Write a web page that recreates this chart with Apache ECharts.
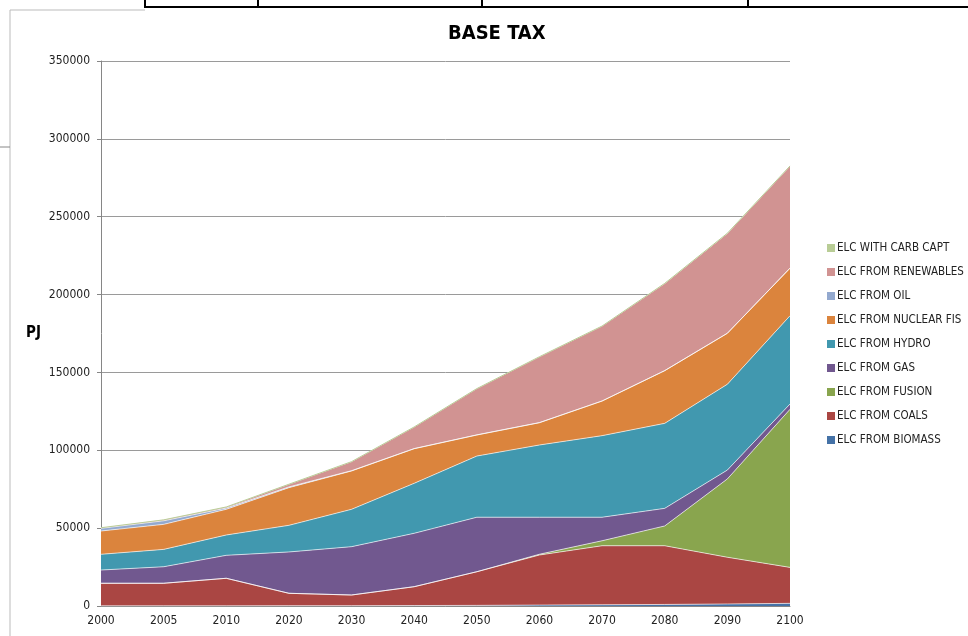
<!DOCTYPE html>
<html>
<head>
<meta charset="utf-8">
<script src="https://cdn.jsdelivr.net/npm/echarts@6/dist/echarts.min.js"></script>
<style>html,body{margin:0;padding:0;background:#fff}#c{width:968px;height:636px}</style>
</head>
<body>
<div id="c"></div>
<script>
const years = ['2000','2005','2010','2020','2030','2040','2050','2060','2070','2080','2090','2100'];
const elcBiomass     = [100, 100, 100, 200, 200, 300, 400, 600, 800, 1000, 1300, 1700];
const elcCoals       = [14500, 14500, 17700, 7950, 6860, 12100, 21600, 32150, 37900, 37700, 30000, 23100];
const elcFusion      = [0, 0, 0, 0, 0, 0, 0, 500, 3200, 12700, 50300, 101500];
const elcGas         = [8500, 10600, 14750, 26550, 31040, 34300, 35000, 23750, 15100, 11300, 5700, 3400];
const elcHydro       = [10100, 11160, 13050, 17100, 24000, 32100, 39300, 46400, 52400, 54600, 55100, 56700];
const elcNuclear     = [14960, 16060, 16500, 24200, 24600, 22200, 13500, 14300, 22200, 33800, 32700, 30500];
const elcOil         = [1700, 2300, 800, 500, 200, 100, 100, 100, 100, 100, 100, 100];
const elcRenewables  = [400, 600, 700, 1700, 5800, 13900, 29700, 42300, 48100, 55900, 64100, 65500];
const elcCarbCapt    = [0, 0, 0, 0, 0, 0, 0, 0, 0, 100, 100, 100];
const yTicks = [0, 50000, 100000, 150000, 200000, 250000, 300000, 350000];

const seriesDefs = [
  ['ELC FROM BIOMASS', elcBiomass, '#4572A7'],
  ['ELC FROM COALS', elcCoals, '#AA4643'],
  ['ELC FROM FUSION', elcFusion, '#89A54E'],
  ['ELC FROM GAS', elcGas, '#71588F'],
  ['ELC FROM HYDRO', elcHydro, '#4198AF'],
  ['ELC FROM NUCLEAR FIS', elcNuclear, '#DB843D'],
  ['ELC FROM OIL', elcOil, '#93A9CF'],
  ['ELC FROM RENEWABLES', elcRenewables, '#D19392'],
  ['ELC WITH CARB CAPT', elcCarbCapt, '#B9CD96']
];

const font = "'Liberation Sans Narrow', 'DejaVu Sans Condensed', 'Liberation Sans', sans-serif";

const chart = echarts.init(document.getElementById('c'), null, {renderer: 'canvas'});
chart.setOption({
  animation: false,
  backgroundColor: '#fff',
  title: {
    text: 'BASE TAX', left: 443, top: 19,
    textStyle: {fontFamily: font, fontWeight: 'bold', fontSize: 20, color: '#000'}
  },
  grid: {left: 101, right: 178, top: 61, bottom: 30, containLabel: false},
  legend: {
    orient: 'vertical', left: 822, top: 237,
    data: seriesDefs.map(s => s[0]).reverse(),
    icon: 'rect', itemWidth: 8, itemHeight: 8, itemGap: 12,
    textStyle: {fontFamily: font, fontSize: 11.5, color: '#222', lineHeight: 12, padding: [0,0,0,-3]}
  },
  xAxis: {
    type: 'category', data: years, boundaryGap: false,
    axisLine: {lineStyle: {color: '#868686'}},
    axisTick: {show: false},
    axisLabel: {fontFamily: font, fontSize: 12, color: '#222', margin: 9},
    splitLine: {show: false}
  },
  yAxis: {
    type: 'value', min: 0, max: 350000, interval: 50000,
    axisLine: {show: true, lineStyle: {color: '#868686'}},
    axisTick: {show: true, length: 4, lineStyle: {color: '#868686'}},
    axisLabel: {fontFamily: font, fontSize: 12, color: '#222', margin: 11,
      formatter: v => yTicks.indexOf(v) >= 0 ? String(v) : ''},
    splitLine: {lineStyle: {color: '#9a9a9a', width: 1}}
  },
  series: seriesDefs.map((s, i) => ({
    name: s[0], type: 'line', stack: 'total', data: s[1],
    symbol: 'none', smooth: false,
    itemStyle: {color: s[2]},
    lineStyle: {width: i === 8 ? 1 : 0.8, color: i === 8 ? s[2] : 'rgba(255,255,255,0.8)'},
    areaStyle: {color: s[2], opacity: 1}
  })),
  graphic: [
    {type: 'text', left: 26, top: 326, style: {text: 'PJ', font: "bold 15px " + font, fill: '#000'}},
    {type: 'line', shape: {x1: 145, y1: 7, x2: 968, y2: 7}, style: {stroke: '#000', lineWidth: 2}},
    {type: 'line', shape: {x1: 145, y1: 0, x2: 145, y2: 8}, style: {stroke: '#000', lineWidth: 2}},
    {type: 'line', shape: {x1: 258, y1: 0, x2: 258, y2: 8}, style: {stroke: '#000', lineWidth: 2}},
    {type: 'line', shape: {x1: 482, y1: 0, x2: 482, y2: 8}, style: {stroke: '#000', lineWidth: 2}},
    {type: 'line', shape: {x1: 748, y1: 0, x2: 748, y2: 8}, style: {stroke: '#000', lineWidth: 2}},
    {type: 'line', shape: {x1: 10, y1: 10, x2: 145, y2: 10}, style: {stroke: '#bbb', lineWidth: 1}},
    {type: 'line', shape: {x1: 10, y1: 10, x2: 10, y2: 636}, style: {stroke: '#bbb', lineWidth: 1}},
    {type: 'line', shape: {x1: 0, y1: 147, x2: 10, y2: 147}, style: {stroke: '#888', lineWidth: 1}}
  ]
});
</script>
</body>
</html>
